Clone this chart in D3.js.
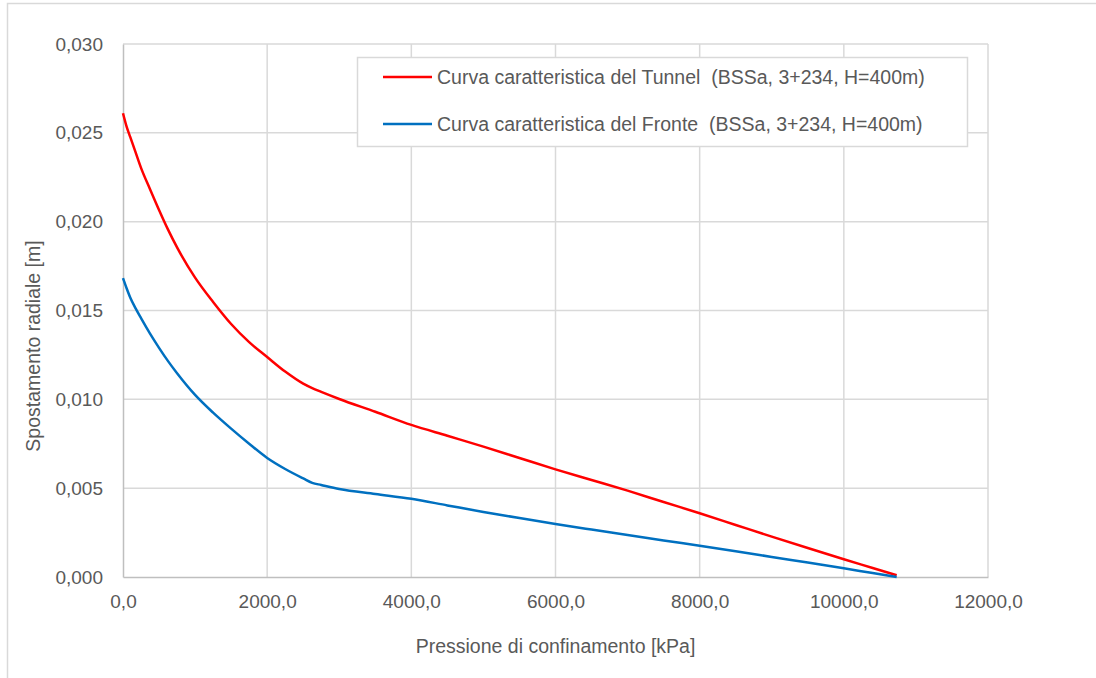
<!DOCTYPE html>
<html>
<head>
<meta charset="utf-8">
<script src="https://cdn.jsdelivr.net/npm/d3@7"></script>
<style>
  html, body { margin: 0; padding: 0; background: #fff; }
  svg { display: block; font-family: "Liberation Sans", Arial, sans-serif; }
  text { white-space: pre; }
</style>
</head>
<body>
<svg id="chart" width="1096" height="678"></svg>
<script>
// Confining pressure [kPa]
const pressure = [0, 50, 100, 175, 250, 375, 500, 625, 750, 1000, 1250, 1500, 1750, 2000, 2250, 2500, 2625, 2750, 3000, 3500, 4000, 4500, 5000, 5500, 6000, 6500, 7000, 7500, 8000, 8500, 9000, 9500, 10000, 10400, 10733];
// Radial displacement [m] – tunnel characteristic curve
const tunnel = [0.0261, 0.02535, 0.02477, 0.02390, 0.02303, 0.02183, 0.02066, 0.01955, 0.01855, 0.01685, 0.01548, 0.01424, 0.01322, 0.01238, 0.01156, 0.01088, 0.01063, 0.01042, 0.01002, 0.0093, 0.00856, 0.00795, 0.00734, 0.0067, 0.00606, 0.00546, 0.00486, 0.00422, 0.00359, 0.00293, 0.00227, 0.00163, 0.0010, 0.00051, 0.0001];
// Radial displacement [m] – face characteristic curve
const fronte = [0.01682, 0.01625, 0.01573, 0.01512, 0.01457, 0.01370, 0.0129, 0.01215, 0.01147, 0.01025, 0.00925, 0.00835, 0.0075, 0.0067, 0.00608, 0.00555, 0.0053, 0.00518, 0.00495, 0.00467, 0.0044, 0.00403, 0.00366, 0.00332, 0.00298, 0.00267, 0.00237, 0.00206, 0.00176, 0.00145, 0.00113, 0.00081, 0.00049, 0.00022, 0.0];

const xTicks = [0, 2000, 4000, 6000, 8000, 10000, 12000];
const yTicks = [0, 0.005, 0.010, 0.015, 0.020, 0.025, 0.030];

const seriesNames = [
  "Curva caratteristica del Tunnel  (BSSa, 3+234, H=400m)",
  "Curva caratteristica del Fronte  (BSSa, 3+234, H=400m)"
];
const seriesColors = ["#ff0000", "#0070c0"];

const svg = d3.select("#chart");
const W = 1096, H = 678;
const m = { left: 123, right: 988, top: 44, bottom: 577 };

const fmtX = v => d3.format(".1f")(v).replace(".", ",");
const fmtY = v => d3.format(".3f")(v).replace(".", ",");

// outer chart frame
svg.append("rect")
  .attr("x", 7.5).attr("y", 3.5)
  .attr("width", W + 20).attr("height", H + 20)
  .attr("fill", "#fff").attr("stroke", "#d9d9d9").attr("stroke-width", 1.5);

const x = d3.scaleLinear().domain([0, 12000]).range([m.left, m.right]);
const y = d3.scaleLinear().domain([0, 0.030]).range([m.bottom, m.top]);

// gridlines
const grid = svg.append("g");
grid.selectAll("line.v").data(xTicks.slice(1)).join("line")
  .attr("x1", d => x(d)).attr("x2", d => x(d))
  .attr("y1", m.top).attr("y2", m.bottom)
  .attr("stroke", "#d9d9d9").attr("stroke-width", 1.5);
grid.selectAll("line.h").data(yTicks.slice(1)).join("line")
  .attr("x1", m.left).attr("x2", m.right)
  .attr("y1", d => y(d)).attr("y2", d => y(d))
  .attr("stroke", "#d9d9d9").attr("stroke-width", 1.5);

// axes
const xAxis = svg.append("g")
  .attr("transform", `translate(0,${m.bottom})`)
  .call(d3.axisBottom(x).tickValues(xTicks).tickFormat(fmtX).tickSize(0).tickPadding(18));
const yAxis = svg.append("g")
  .attr("transform", `translate(${m.left},0)`)
  .call(d3.axisLeft(y).tickValues(yTicks).tickFormat(fmtY).tickSize(0).tickPadding(20));

[xAxis, yAxis].forEach(a => {
  a.select(".domain").attr("stroke", "#bfbfbf").attr("stroke-width", 1.5);
  a.selectAll("text")
    .attr("fill", "#595959")
    .style("font-size", "19px")
    .style("font-family", "'Liberation Sans', Arial, sans-serif");
});

// axis titles
svg.append("text")
  .attr("x", (m.left + m.right) / 2).attr("y", 653)
  .attr("text-anchor", "middle")
  .attr("fill", "#595959").style("font-size", "19.5px")
  .text("Pressione di confinamento [kPa]");
svg.append("text")
  .attr("transform", `translate(40,346) rotate(-90)`)
  .attr("text-anchor", "middle")
  .attr("fill", "#595959").style("font-size", "19.5px")
  .text("Spostamento radiale [m]");

// curves
const line = d3.line()
  .x((d, i) => x(pressure[i]))
  .y(d => y(d))
  .curve(d3.curveMonotoneX);

[tunnel, fronte].forEach((s, k) => {
  svg.append("path")
    .attr("d", line(s))
    .attr("fill", "none")
    .attr("stroke", seriesColors[k])
    .attr("stroke-width", 2.5)
    .attr("stroke-linejoin", "round");
});

// legend
const lg = svg.append("g");
lg.append("rect")
  .attr("x", 357.5).attr("y", 57.5).attr("width", 610).attr("height", 89)
  .attr("fill", "#fff").attr("stroke", "#d9d9d9").attr("stroke-width", 1.5);
seriesNames.forEach((name, k) => {
  const ly = 77 + k * 47;
  lg.append("line")
    .attr("x1", 383).attr("x2", 432).attr("y1", ly).attr("y2", ly)
    .attr("stroke", seriesColors[k]).attr("stroke-width", 2.5);
  lg.append("text")
    .attr("x", 437).attr("y", ly + 7)
    .attr("fill", "#595959").style("font-size", "19.5px")
    .text(name);
});
</script>
</body>
</html>
